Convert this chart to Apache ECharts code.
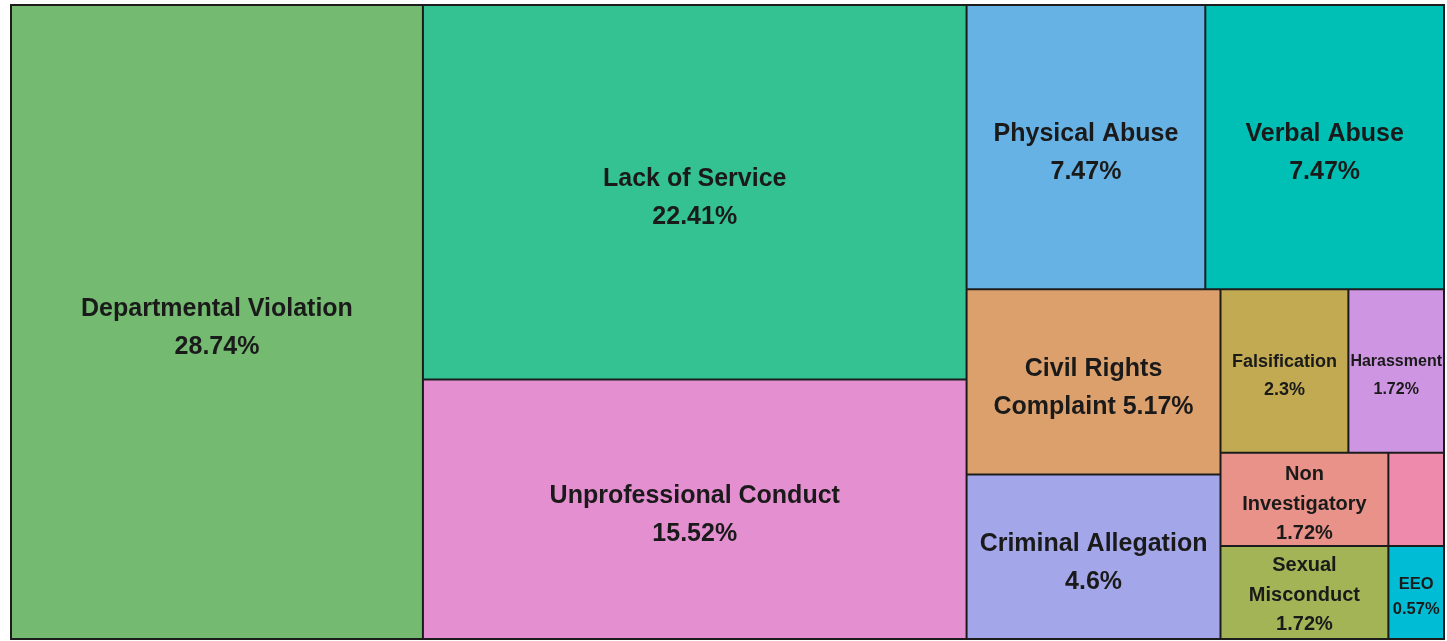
<!DOCTYPE html>
<html>
<head>
<meta charset="utf-8">
<script src="https://cdn.jsdelivr.net/npm/echarts@6/dist/echarts.min.js"></script>
<style>
    html, body { margin: 0; padding: 0; background: #fff; }
    #J-treemap { width: 1447px; height: 641px; }
</style>
</head>
<body>
<div id="J-treemap"></div>
<script>
// complaint categories, share of all complaints (%)
const categories = [
    'Departmental Violation', 'Lack of Service', 'Unprofessional Conduct',
    'Physical Abuse', 'Verbal Abuse', 'Civil Rights Complaint', 'Criminal Allegation',
    'Falsification', 'Harassment', 'Non Investigatory', 'Sexual Misconduct',
    'Other', 'EEO'
];
const shares = [28.74, 22.41, 15.52, 7.47, 7.47, 5.17, 4.6, 2.3, 1.72, 1.72, 1.72, 0.57, 0.57];
const colors = [
    '#74ba70', '#35c293', '#e48fd0',
    '#67b2e4', '#00c0b5', '#dca06c', '#a4a6ea',
    '#c1aa52', '#ce95e2', '#e99289', '#a3b456',
    '#ee8aac', '#00bcd4'
];
// how the labels wrap inside the cells
const labelText = {
    'Civil Rights Complaint': 'Civil Rights\nComplaint {c}%',
    'Non Investigatory': 'Non\nInvestigatory\n{c}%',
    'Sexual Misconduct': 'Sexual\nMisconduct\n{c}%'
};

// label font size, line height, top padding, downward shift per cell (style only)
const labelStyle = {
    'Falsification': [18, 28, 0, 5],
    'Harassment': [16, 28, 0, 5],
    'Non Investigatory': [20, 29.5, 2, 5],
    'Sexual Misconduct': [20, 29.5, 2, 3],
    'EEO': [16.5, 25, 0, 5]
};

const data = categories.map(function (name, i) {
    const st = labelStyle[name] || [25, 38, 0, 6];
    return {
        name: name,
        value: shares[i],
        itemStyle: { color: colors[i] },
        label: {
            show: name !== 'Other',
            fontSize: st[0],
            lineHeight: st[1],
            padding: [st[2], 0, 0, 0],
            offset: [0, st[3]],
            formatter: labelText[name] || '{b}\n{c}%'
        }
    };
});

const option = {
    animation: false,
    series: [{
        type: 'treemap',
        left: 10,
        top: 4,
        right: 2,
        bottom: 1,
        roam: false,
        nodeClick: false,
        sort: false,
        squareRatio: 1.15,
        breadcrumb: { show: false },
        itemStyle: {
            borderColor: '#1c1c1c',
            borderWidth: 1,
            gapWidth: 0
        },
        label: {
            show: true,
            position: 'inside',
            color: '#1a1a1a',
            fontFamily: 'Liberation Sans, Arial, sans-serif',
            fontWeight: 'bold',
            overflow: 'none',
            textBorderWidth: 0,
            align: 'center'
        },
        emphasis: { disabled: true },
        data: data
    }]
};

const chart = echarts.init(document.getElementById('J-treemap'));
chart.setOption(option);
</script>
</body>
</html>
